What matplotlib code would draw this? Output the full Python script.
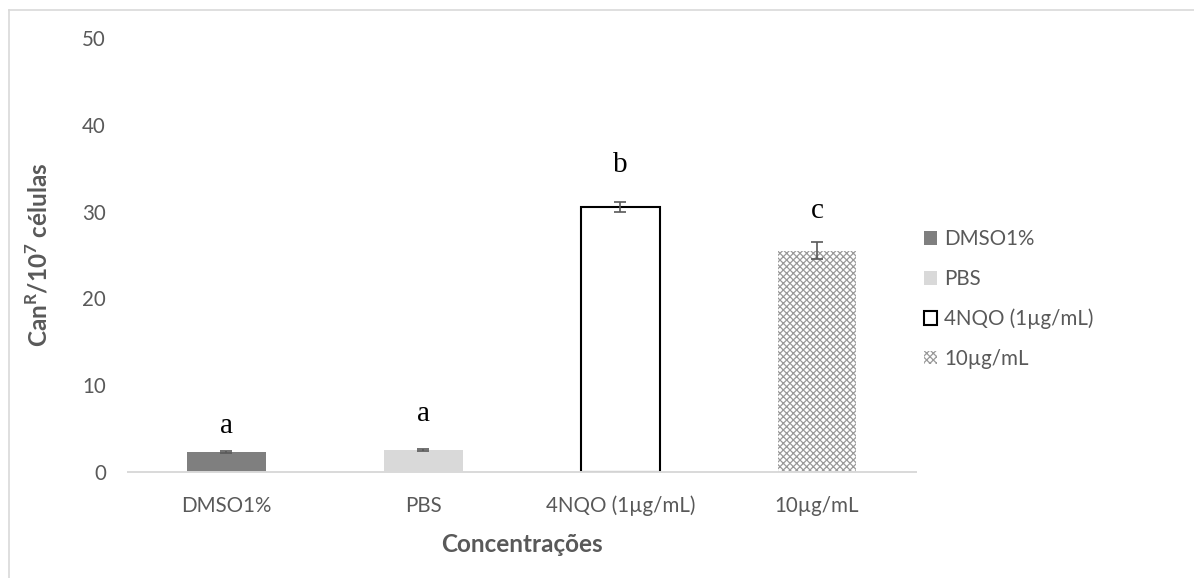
import matplotlib
matplotlib.use('Agg')
import matplotlib.pyplot as plt
from matplotlib.lines import Line2D

# Mutation frequency per treatment
categories = ['DMSO1%', 'PBS', '4NQO (1µg/mL)', '10µg/mL']
values = [2.3, 2.5, 30.5, 25.5]
errors = [0.1, 0.1, 0.6, 1.0]
letters = ['a', 'a', 'b', 'c']
letter_y = [4.5, 5.9, 34.6, 29.3]

W, H = 1194, 578
plt.rcParams['hatch.linewidth'] = 0.9
text_grey = '#595959'

fig = plt.figure(figsize=(W / 100, H / 100), dpi=100)
ax = fig.add_axes([128 / W, (H - 472) / H, (915.5 - 128) / W, (472 - 38) / H])

styles = [
    dict(color='#7f7f7f'),
    dict(color='#d9d9d9'),
    dict(facecolor='white', edgecolor='black', linewidth=1.5),
    dict(facecolor='white', edgecolor='#9a9a9a', linewidth=0, hatch='xxxxx'),
]

handles = []
for i, (cat, v, e, st) in enumerate(zip(categories, values, errors, styles)):
    b = ax.bar(i, v, width=0.4, label=cat, zorder=2, **st)
    handles.append(b)
    ax.errorbar(i, v, yerr=e, fmt='none', ecolor=text_grey, elinewidth=1.2,
                capsize=4, capthick=1.2, zorder=3)
    ax.text(i, letter_y[i], letters[i], ha='center', va='baseline',
            fontsize=21, family='Liberation Serif', color='black')

ax.set_xlim(-0.5, 3.5)
ax.set_ylim(0, 50)
ax.set_yticks(range(0, 51, 10))
ax.set_xticks(range(len(categories)))
ax.set_xticklabels(categories)

for side in ['left', 'right', 'top']:
    ax.spines[side].set_visible(False)
ax.spines['bottom'].set_color('#d9d9d9')
ax.spines['bottom'].set_linewidth(1.4)
ax.spines['bottom'].set_zorder(4)
ax.tick_params(axis='both', length=0, labelsize=14.8, labelcolor=text_grey,
               labelfontfamily='Lato')
ax.tick_params(axis='y', pad=16)
ax.tick_params(axis='x', pad=17)

ax.set_xlabel('Concentrações', fontsize=17.5, fontweight='bold', color=text_grey,
              family='Lato', labelpad=12)
ax.set_ylabel(r'Can$^{\mathregular{R}}$/10$^{\mathregular{7}}$ células', fontsize=17.5,
              fontweight='bold', color=text_grey, family='Lato', labelpad=22)

leg = fig.legend(handles=handles, loc='upper left',
                 bbox_to_anchor=(905 / W, 1 - 211 / H), frameon=False,
                 handlelength=0.65, handleheight=0.65, handletextpad=0.35,
                 labelspacing=0.95, prop={'family': 'Lato', 'size': 14.8})
for t in leg.get_texts():
    t.set_color(text_grey)

# chart area outline
fig.add_artist(Line2D([8.5 / W, 8.5 / W], [0, 1 - 10 / H], transform=fig.transFigure,
                      color='#d9d9d9', linewidth=1.2))
fig.add_artist(Line2D([8.5 / W, 1], [1 - 10 / H, 1 - 10 / H], transform=fig.transFigure,
                      color='#d9d9d9', linewidth=1.2))

fig.savefig('out.png', dpi=100)
